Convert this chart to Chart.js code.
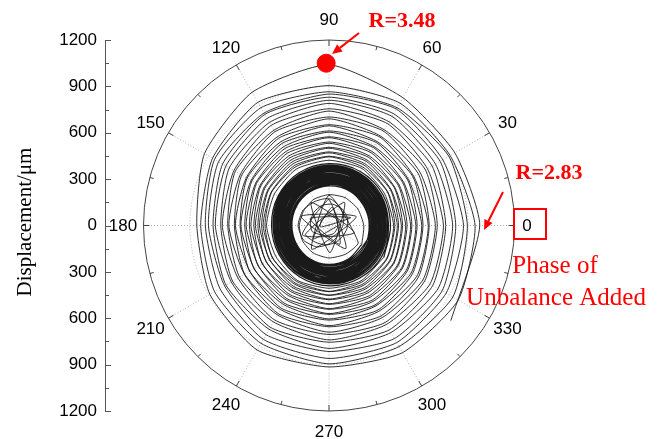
<!DOCTYPE html>
<html>
<head>
<meta charset="utf-8">
<script src="https://cdn.jsdelivr.net/npm/chart.js@4"></script>
<style>
  html, body { margin: 0; padding: 0; background: #fff; }
  #wrap { width: 665px; height: 439px; }
</style>
</head>
<body>
<div id="wrap"><canvas id="orbitChart" width="665" height="439"></canvas></div>
<script>
// angle of each sample within one revolution (deg, counter-clockwise from right)
const angleDeg = [0, 30, 60, 90, 120, 150, 180, 210, 240, 270, 300, 330];

// loose start of the trace (deg, um)
const startAngle = [322];
const startR = [1000];

// outer decaying loops (um), one row per revolution
const outerRevs = [
    [975, 940, 955, 1040, 995, 930, 855, 890, 930, 915, 950, 965],
    [945, 905, 915, 905, 920, 870, 830, 855, 880, 895, 905, 925],
    [895, 895, 880, 865, 880, 855, 800, 815, 850, 860, 875, 875],
    [870, 850, 870, 850, 840, 825, 780, 780, 815, 815, 845, 845],
    [820, 830, 835, 830, 830, 795, 750, 770, 775, 795, 800, 815],
    [800, 795, 815, 810, 800, 770, 735, 730, 760, 755, 780, 775],
    [755, 770, 775, 790, 770, 745, 700, 720, 720, 740, 740, 755],
    [740, 735, 760, 755, 748, 710, 690, 680, 705, 705, 725, 715],
    [700, 720, 715, 740, 712, 700, 655, 668, 668, 690, 688, 702],
    [688, 682, 705, 702, 700, 662, 648, 632, 658, 655, 675, 668],
    [648, 668, 668, 690, 664, 652, 612, 630, 628, 648, 642, 656],
    [642, 634, 660, 652, 652, 618, 606, 592, 618, 612, 632, 624],
    [608, 628, 626, 645, 625, 612, 575, 592, 590, 605, 602, 614],
    [600, 594, 618, 612, 612, 582, 570, 558, 580, 575, 594, 586],
    [570, 588, 588, 604, 588, 576, 545, 560, 556, 570, 568, 578],
    [562, 558, 580, 574, 574, 548, 536, 526, 546, 542, 558, 550],
    [536, 552, 554, 568, 554, 542, 515, 528, 524, 538, 535, 544],
    [528, 524, 544, 540, 540, 516, 505, 496, 514, 510, 524, 518],
    [505, 518, 520, 532, 520, 510, 486, 498, 494, 506, 503, 512],
    [496, 492, 510, 506, 506, 486, 476, 468, 484, 480, 492, 486],
    [476, 488, 490, 500, 490, 480, 460, 470, 466, 476, 474, 482],
    [468, 464, 480, 476, 476, 458, 450, 442, 456, 452, 464, 458],
    [450, 460, 462, 470, 462, 453, 436, 445, 440, 450, 447, 454],
    [442, 438, 452, 448, 448, 432, 426, 420, 432, 428, 438, 433],
    [426, 436, 437, 444, 437, 429, 414, 422, 418, 426, 423, 430],
    [418, 414, 426, 422, 422, 408, 404, 398, 410, 406, 414, 410]
];

// dense steady ring
const ringRevs = [
    [398, 402, 404, 400, 392, 380, 372, 374, 382, 390, 394, 396],
    [385, 390, 392, 390, 382, 372, 362, 365, 372, 378, 382, 384],
    [378, 382, 385, 383, 376, 366, 356, 358, 365, 371, 374, 376],
    [370, 375, 378, 376, 368, 358, 348, 350, 357, 363, 366, 368],
    [362, 367, 370, 368, 360, 350, 340, 342, 350, 355, 358, 360],
    [355, 360, 362, 360, 352, 342, 333, 335, 342, 348, 350, 352],
    [348, 352, 355, 353, 345, 335, 326, 328, 335, 340, 343, 345],
    [340, 345, 348, 346, 338, 328, 318, 320, 328, 333, 336, 338],
    [332, 338, 340, 338, 330, 320, 311, 313, 320, 326, 329, 330],
    [325, 330, 333, 331, 323, 313, 304, 306, 313, 318, 321, 323],
    [318, 322, 325, 323, 316, 306, 297, 299, 306, 311, 314, 316],
    [310, 315, 318, 316, 308, 298, 290, 292, 298, 304, 307, 308],
    [303, 308, 310, 308, 301, 291, 283, 285, 291, 297, 300, 301],
    [296, 300, 303, 301, 294, 285, 276, 278, 285, 290, 292, 294],
    [289, 293, 296, 294, 287, 278, 270, 272, 278, 283, 286, 287],
    [282, 287, 289, 287, 281, 272, 264, 266, 272, 277, 279, 280],
    [276, 280, 283, 281, 275, 266, 258, 260, 266, 271, 273, 275],
    [268, 272, 275, 273, 266, 257, 250, 252, 258, 262, 265, 266],
    [260, 264, 267, 265, 258, 250, 243, 245, 250, 255, 257, 258],
    [285, 292, 298, 300, 296, 288, 280, 282, 290, 298, 305, 312],
    [320, 328, 335, 338, 333, 325, 318, 320, 328, 336, 342, 348],
    [355, 362, 368, 370, 365, 356, 348, 350, 357, 364, 368, 372],
    [365, 368, 370, 366, 358, 348, 340, 342, 348, 352, 350, 345],
    [335, 330, 332, 330, 322, 312, 305, 308, 315, 320, 318, 310],
    [300, 296, 298, 294, 286, 276, 270, 272, 280, 286, 284, 278],
    [262, 258, 260, 256, 250, 244, 240, 242, 248, 252, 250, 245]
];

// tangled inner trace: angle (deg) and radius (um) of each vertex
const innerAngle = [
    0, 30, 60, 90, 120, 150, 180, 210, 240, 270, 300, 330,
    90, 234, 18, 162, 306, 90,
    120, 150, 180, 210, 240, 270, 300, 330, 0, 30, 60, 90,
    200, 344, 128, 272, 56, 200,
    230, 260, 290, 320, 350, 20, 50, 80, 110, 140, 170, 200,
    250, 300, 350, 40, 90, 140, 190,
    20, 160, 300, 80, 220, 0
];
const innerR = [
    225, 215, 208, 200, 196, 190, 192, 198, 205, 210, 214, 218,
    195, 190, 185, 190, 185, 170,
    180, 195, 200, 190, 160, 120, 92, 80, 90, 110, 140, 172,
    182, 170, 188, 176, 180, 162,
    140, 128, 118, 112, 118, 128, 136, 140, 138, 130, 122, 115,
    70, 60, 58, 64, 66, 60, 56,
    150, 130, 140, 120, 135, 60
];

// red marker (R=3.48)
const markerR = [1050];
const markerAngle = [91];

// axis ticks
const radialMax = 1200;
const radialGrid = [300, 600, 900];
const angleTicks = [0, 30, 60, 90, 120, 150, 180, 210, 240, 270, 300, 330];

const rad = Math.PI / 180;
function toXY(r, deg) {
    return { x: r * Math.cos(deg * rad), y: r * Math.sin(deg * rad) };
}
function revsToPoints(rows) {
    const pts = [];
    rows.forEach(row => row.forEach((r, i) => pts.push(toXY(r, angleDeg[i]))));
    return pts;
}

const outerPts = [...startR.map((r, i) => toXY(r, startAngle[i])), ...revsToPoints(outerRevs)];
// each segment starts where the previous one ended, so the trace stays continuous
const ringPts = [outerPts[outerPts.length - 1], ...revsToPoints(ringRevs)];
const innerPts = [ringPts[ringPts.length - 1], ...innerR.map((r, i) => toXY(r, innerAngle[i]))];
const marker = markerR.map((r, i) => toXY(r, markerAngle[i]));

// layout: plot box 105..600 x 40..411, polar centre at x=329
const padL = 55, padR = 65, padT = 40, padB = 28, yAxisW = 50;
const areaL = padL + yAxisW, areaR = 665 - padR, areaT = padT, areaB = 439 - padB;
const centreX = 329;
const pxPerUnit = (areaB - areaT) / (2 * radialMax);
const xMin = -(centreX - areaL) / pxPerUnit;
const xMax = (areaR - centreX) / pxPerUnit;

const polarGrid = {
    id: 'polarGrid',
    beforeDatasetsDraw(chart) {
        const ctx = chart.ctx;
        const xs = chart.scales.x, ys = chart.scales.y;
        const cx = xs.getPixelForValue(0), cy = ys.getPixelForValue(0);
        const R = cy - ys.getPixelForValue(radialMax);
        ctx.save();
        // dotted circles + spokes
        ctx.strokeStyle = '#b0b0b0';
        ctx.lineWidth = 1;
        ctx.setLineDash([1, 2]);
        radialGrid.forEach(v => {
            const r = cy - ys.getPixelForValue(v);
            ctx.beginPath();
            ctx.arc(cx, cy, r, 0, Math.PI * 2);
            ctx.stroke();
        });
        angleTicks.forEach(a => {
            ctx.beginPath();
            ctx.moveTo(cx, cy);
            ctx.lineTo(cx + R * Math.cos(a * rad), cy - R * Math.sin(a * rad));
            ctx.stroke();
        });
        ctx.setLineDash([]);
        // outer ring
        ctx.strokeStyle = '#444';
        ctx.beginPath();
        ctx.arc(cx, cy, R, 0, Math.PI * 2);
        ctx.stroke();
        for (let a = 0; a < 360; a += 15) {
            const len = a % 30 === 0 ? 6 : 4;
            ctx.beginPath();
            ctx.moveTo(cx + R * Math.cos(a * rad), cy - R * Math.sin(a * rad));
            ctx.lineTo(cx + (R - len) * Math.cos(a * rad), cy - (R - len) * Math.sin(a * rad));
            ctx.stroke();
        }
        // left axis ticks (inward)
        const ax = chart.chartArea.left;
        ctx.strokeStyle = '#555';
        for (let v = -radialMax; v <= radialMax; v += 150) {
            const y = Math.round(ys.getPixelForValue(v)) + 0.5;
            const len = v % 300 === 0 ? 6 : 4;
            ctx.beginPath();
            ctx.moveTo(ax, y);
            ctx.lineTo(ax + len, y);
            ctx.stroke();
        }
        ctx.restore();
    },
    afterDatasetsDraw(chart) {
        const ctx = chart.ctx;
        const xs = chart.scales.x, ys = chart.scales.y;
        const cx = xs.getPixelForValue(0), cy = ys.getPixelForValue(0);
        ctx.save();
        // angle labels
        ctx.fillStyle = '#000';
        ctx.font = '17px "Liberation Sans", Arial, sans-serif';
        ctx.textAlign = 'center';
        ctx.textBaseline = 'middle';
        angleTicks.forEach(a => {
            const r = a === 0 ? 198 : 206;
            ctx.fillText(String(a), cx + r * Math.cos(a * rad), cy - r * Math.sin(a * rad) + 1);
        });
        // y-axis title
        ctx.save();
        ctx.translate(25, 222);
        ctx.rotate(-Math.PI / 2);
        ctx.font = '21px "Liberation Serif", "Times New Roman", serif';
        ctx.fillText('Displacement/\u03bcm', 0, 0);
        ctx.restore();

        // red annotations
        ctx.fillStyle = '#ff0000';
        ctx.strokeStyle = '#ff0000';
        ctx.font = 'bold 22px "Liberation Serif", "Times New Roman", serif';
        ctx.textAlign = 'center';
        ctx.fillText('R=3.48', 402, 21);
        ctx.fillText('R=2.83', 549, 173);
        const arrow = (x0, y0, x1, y1) => {
            const ang = Math.atan2(y1 - y0, x1 - x0);
            const hl = 10, hw = 4.5;
            const bx = x1 - hl * Math.cos(ang), by = y1 - hl * Math.sin(ang);
            ctx.lineWidth = 2;
            ctx.beginPath();
            ctx.moveTo(x0, y0);
            ctx.lineTo(bx, by);
            ctx.stroke();
            ctx.beginPath();
            ctx.moveTo(x1, y1);
            ctx.lineTo(bx + hw * Math.sin(ang), by - hw * Math.cos(ang));
            ctx.lineTo(bx - hw * Math.sin(ang), by + hw * Math.cos(ang));
            ctx.closePath();
            ctx.fill();
        };
        arrow(359, 33, 332, 54);
        arrow(503, 192, 484, 230);
        ctx.lineWidth = 2;
        ctx.strokeRect(514, 209, 32, 30);
        ctx.font = '25px "Liberation Serif", "Times New Roman", serif';
        ctx.textBaseline = 'alphabetic';
        ctx.fillText('Phase of', 555, 273);
        ctx.fillText('Unbalance Added', 556, 305);
        ctx.restore();
    }
};

const traceStyle = {
    showLine: true,
    borderColor: '#1a1a1a',
    pointRadius: 0,
    fill: false
};

const ctx = document.getElementById('orbitChart').getContext('2d');
new Chart(ctx, {
    type: 'scatter',
    data: {
        datasets: [{
            data: marker,
            pointRadius: 9,
            pointBackgroundColor: '#ff0000',
            pointBorderColor: '#ff0000',
            showLine: false
        }, {
            ...traceStyle,
            data: outerPts,
            borderWidth: 0.9,
            tension: 0.2
        }, {
            ...traceStyle,
            data: ringPts,
            borderWidth: 1.2,
            tension: 0.35
        }, {
            ...traceStyle,
            data: innerPts,
            borderWidth: 0.9,
            tension: 0.2
        }]
    },
    options: {
        responsive: false,
        animation: false,
        layout: {
            padding: { left: padL, right: padR, top: padT, bottom: padB }
        },
        scales: {
            x: {
                type: 'linear',
                display: false,
                min: xMin,
                max: xMax
            },
            y: {
                type: 'linear',
                position: 'left',
                min: -radialMax,
                max: radialMax,
                afterFit: function(scale) {
                    scale.width = yAxisW;
                },
                ticks: {
                    stepSize: 300,
                    padding: 8,
                    color: '#000',
                    font: {
                        family: '"Liberation Sans", Arial, sans-serif',
                        size: 17
                    },
                    callback: function(value) {
                        return Math.abs(value);
                    }
                },
                grid: {
                    drawOnChartArea: false,
                    drawTicks: false
                },
                border: {
                    display: true,
                    color: '#555',
                    width: 1
                }
            }
        },
        plugins: {
            legend: { display: false },
            tooltip: { enabled: false }
        }
    },
    plugins: [polarGrid]
});
</script>
</body>
</html>
